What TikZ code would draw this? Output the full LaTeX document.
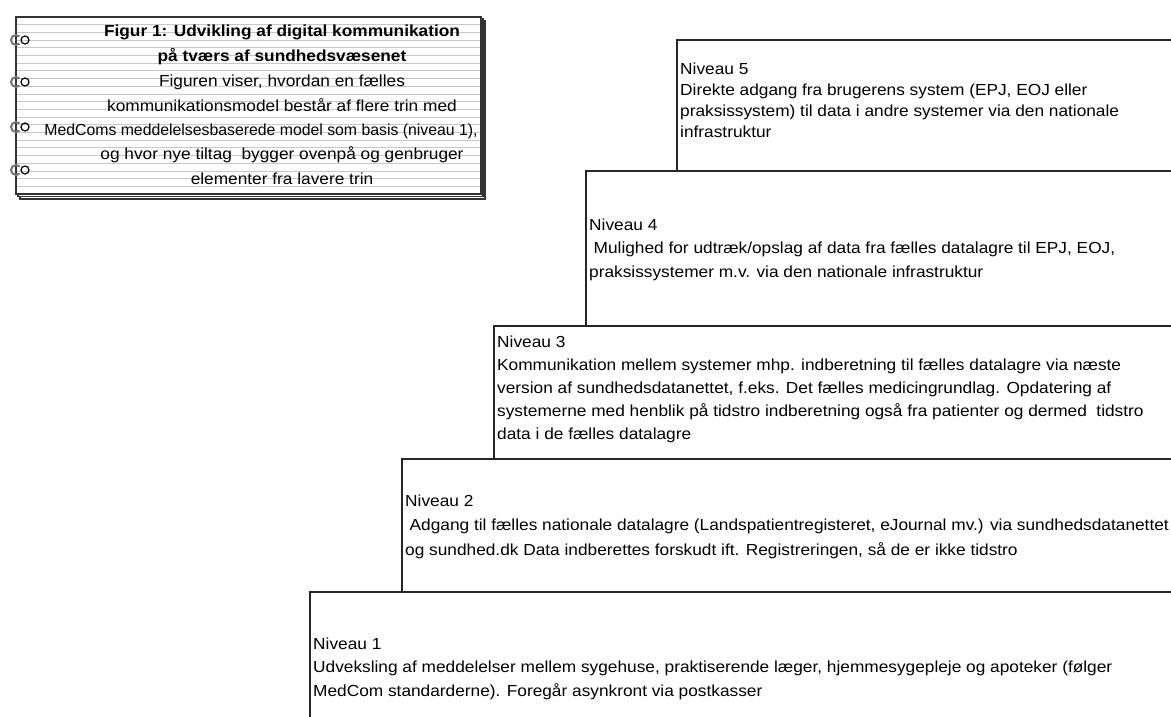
\documentclass[tikz,border=0pt]{standalone}
\usepackage{fontspec}
\setmainfont{Liberation Sans}[FakeStretch=1.08]
\begin{document}
\begin{tikzpicture}[x=1pt,y=-1pt,
  stepbox/.style={draw=black!85, line width=1.3pt, fill=white},
  steptext/.style={anchor=base west, align=left, inner sep=0pt, font=\fontsize{16}{#1}\selectfont},
  page/.style={draw=black!80, line width=1.1pt, fill=white},
  ruled/.style={draw=black!22, line width=0.9pt},
  padline/.style={anchor=base, inner sep=0pt, font=\fontsize{16}{20}\selectfont},
  ringback/.style={draw=black!55, line width=2pt},
  ringfront/.style={draw=black, line width=1.2pt}]
\useasboundingbox (0,0) rectangle (1171,716);
\clip (0,0) rectangle (1171,716);

% staircase of levels, each lower step drawn over the one above it
\draw[stepbox] (677,40) rectangle (1200,760);
\draw[stepbox] (586,171) rectangle (1200,760);
\draw[stepbox] (494,326) rectangle (1200,760);
\draw[stepbox] (402,459) rectangle (1200,760);
\draw[stepbox] (310,592) rectangle (1200,760);

% level texts, placed by the baseline of their last line
\node[steptext=21] (n5) at (680,137) {Niveau 5\\Direkte adgang fra brugerens system (EPJ, EOJ eller\\praksissystem) til data i andre systemer via den nationale\\infrastruktur};
\node[steptext=23.5] (n4) at (589,277) {Niveau 4\\\hspace*{0.28em}Mulighed for udtræk/opslag af data fra fælles datalagre til EPJ, EOJ,\\praksissystemer m.v. via den nationale infrastruktur};
\node[steptext=22.8] (n3) at (497,439) {Niveau 3\\Kommunikation mellem systemer mhp. indberetning til fælles datalagre via næste\\version af sundhedsdatanettet, f.eks. Det fælles medicingrundlag. Opdatering af\\systemerne med henblik på tidstro indberetning også fra patienter og dermed\ \ tidstro\\data i de fælles datalagre};
\node[steptext=24.5] (n2) at (405,555) {Niveau 2\\\hspace*{0.28em}Adgang til fælles nationale datalagre (Landspatientregisteret, eJournal mv.) via sundhedsdatanettet\\og sundhed.dk Data indberettes forskudt ift. Registreringen, så de er ikke tidstro};
\node[steptext=23.5] (n1) at (313,696) {Niveau 1\\Udveksling af meddelelser mellem sygehuse, praktiserende læger, hjemmesygepleje og apoteker (følger\\MedCom standarderne). Foregår asynkront via postkasser};

% notepad caption: stacked sheets, ruling, rings
\draw[page] (20,21) rectangle (485,199);
\draw[page] (18,19) rectangle (483,196.5);
\draw[page] (16,17) rectangle (481,194);
\foreach \k in {1,...,22}
  \draw[ruled] (16.6,17+7.7*\k) -- (480.4,17+7.7*\k);
\foreach \y in {40,82,127,170} {
  \draw[ringback] (16,\y) ++(45:5) arc[start angle=45, end angle=315, radius=5];
  \draw[ringfront] (25,\y) circle[radius=4];
}

\node[padline, font=\fontsize{16}{20}\selectfont\bfseries] (p1) at (282,36) {Figur 1: Udvikling af digital kommunikation};
\node[padline, font=\fontsize{16}{20}\selectfont\bfseries] (p2) at (282,61) {på tværs af sundhedsvæsenet};
\node[padline] (p3) at (282,86) {Figuren viser, hvordan en fælles};
\node[padline] (p4) at (282,111) {kommunikationsmodel består af flere trin med};
\node[padline] (p5) at (261,135) {\scalebox{0.915}[1]{MedComs meddelelsesbaserede model som basis (niveau 1),}};
\node[padline] (p6) at (282,159) {og hvor nye tiltag\ \ bygger ovenpå og genbruger};
\node[padline] (p7) at (282,184) {elementer fra lavere trin};
\end{tikzpicture}
\end{document}
